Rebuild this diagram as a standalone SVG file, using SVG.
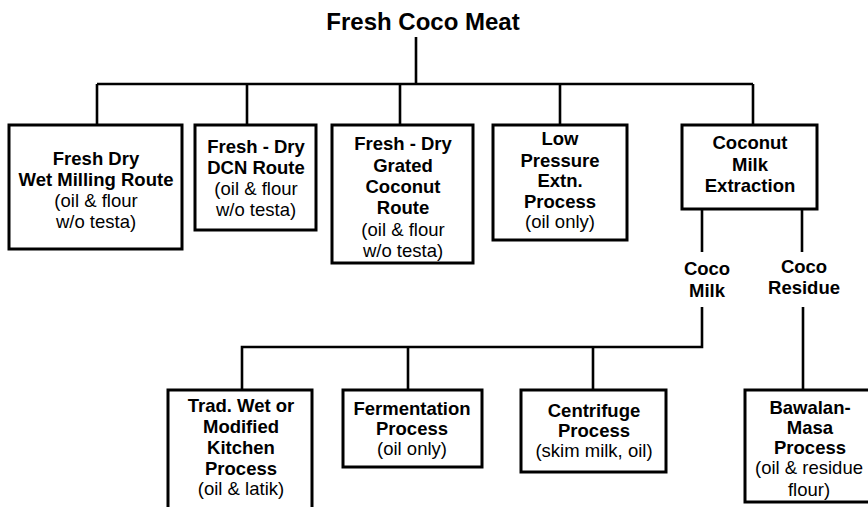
<svg xmlns="http://www.w3.org/2000/svg" width="868" height="507" viewBox="0 0 868 507">
<style>
.box{fill:#fff;stroke:#000;stroke-width:3}
.ln{fill:none;stroke:#000;stroke-width:2.6}
text{font-family:"Liberation Sans",Arial,sans-serif;font-size:18.5px;fill:#000;text-anchor:middle}
.b{font-weight:bold}
.t{font-size:24px;font-weight:bold}
</style>
<rect width="868" height="507" fill="#fff"/>
<g id="connectors">
<path class="ln" d="M416 37V84M97 84H753M97 84V125M247 84V125M400 84V125M560 84V125M753 84V125"/>
<path class="ln" d="M702 209V252M802 209V252"/>
<path class="ln" d="M702 307V347H242V390M408 347V390M593 347V390"/>
<path class="ln" d="M803 307V390"/>
</g>
<g id="title"><text class="t" x="423" y="30">Fresh Coco Meat</text></g>
<g id="n1"><rect class="box" x="9" y="125" width="173" height="124"/>
<text class="b" x="96" y="165">Fresh Dry</text><text class="b" x="96" y="186">Wet Milling Route</text>
<text x="96" y="207">(oil &amp; flour</text><text x="96" y="228">w/o testa)</text></g>
<g id="n2"><rect class="box" x="195" y="125" width="121" height="105"/>
<text class="b" x="256" y="153">Fresh - Dry</text><text class="b" x="256" y="174">DCN Route</text>
<text x="256" y="195">(oil &amp; flour</text><text x="256" y="216">w/o testa)</text></g>
<g id="n3"><rect class="box" x="332" y="125" width="141" height="138"/>
<text class="b" x="403" y="150">Fresh - Dry</text><text class="b" x="403" y="172">Grated</text>
<text class="b" x="403" y="193">Coconut</text><text class="b" x="403" y="214">Route</text>
<text x="403" y="236">(oil &amp; flour</text><text x="403" y="257">w/o testa)</text></g>
<g id="n4"><rect class="box" x="493" y="125" width="134" height="115"/>
<text class="b" x="560" y="145">Low</text><text class="b" x="560" y="167">Pressure</text>
<text class="b" x="560" y="187">Extn.</text><text class="b" x="560" y="208">Process</text>
<text x="560" y="228">(oil only)</text></g>
<g id="n5"><rect class="box" x="682" y="125" width="135" height="84"/>
<text class="b" x="750" y="149">Coconut</text><text class="b" x="750" y="171">Milk</text>
<text class="b" x="750" y="192">Extraction</text></g>
<g id="cocomilk"><text class="b" x="707" y="275">Coco</text><text class="b" x="707" y="297">Milk</text></g>
<g id="cocoresidue"><text class="b" x="804" y="273">Coco</text><text class="b" x="804" y="294">Residue</text></g>
<g id="n6"><rect class="box" x="168" y="390" width="144" height="130"/>
<text class="b" x="241" y="412">Trad. Wet or</text><text class="b" x="241" y="433">Modified</text>
<text class="b" x="241" y="454">Kitchen</text><text class="b" x="241" y="475">Process</text>
<text x="241" y="495">(oil &amp; latik)</text></g>
<g id="n7"><rect class="box" x="343" y="390" width="139" height="77"/>
<text class="b" x="412" y="415">Fermentation</text><text class="b" x="412" y="435">Process</text>
<text x="412" y="455">(oil only)</text></g>
<g id="n8"><rect class="box" x="521" y="390" width="145" height="82"/>
<text class="b" x="594" y="417">Centrifuge</text><text class="b" x="594" y="437">Process</text>
<text x="594" y="457">(skim milk, oil)</text></g>
<g id="n9"><rect class="box" x="745" y="390" width="130" height="112"/>
<text class="b" x="810" y="414">Bawalan-</text><text class="b" x="810" y="434">Masa</text>
<text class="b" x="810" y="454">Process</text><text x="809" y="474">(oil &amp; residue</text>
<text x="809" y="496">flour)</text></g>
</svg>
